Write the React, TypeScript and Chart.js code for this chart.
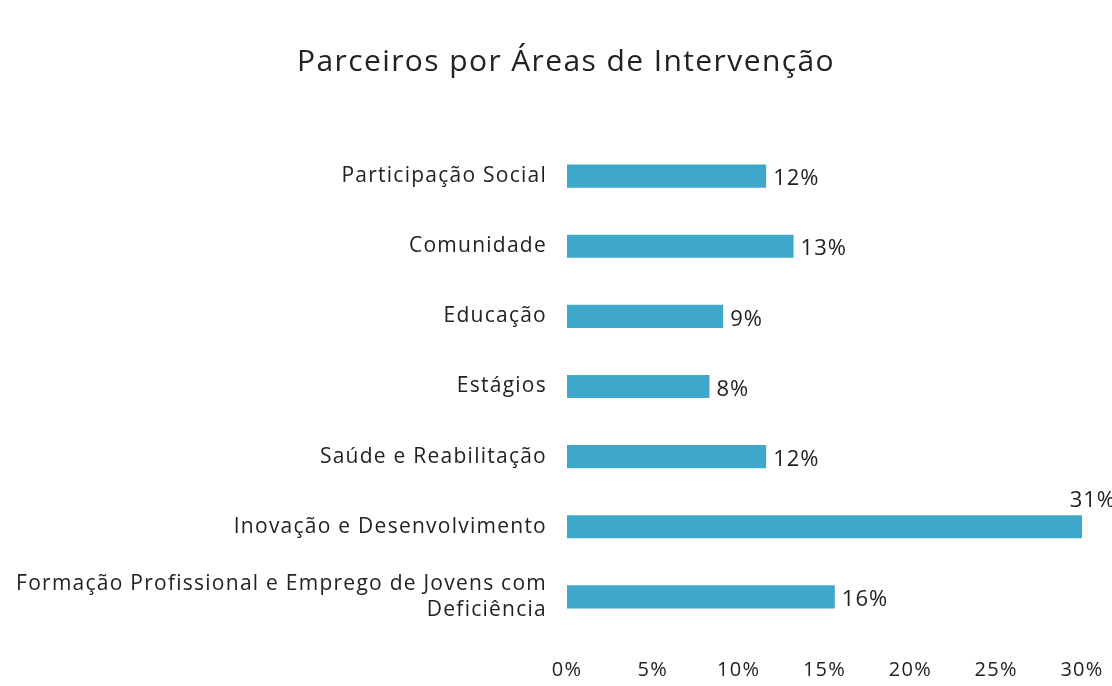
import React, { useEffect, useRef } from "react";
import { Chart, registerables } from "chart.js";

Chart.register(...registerables);

const title = "Parceiros por Áreas de Intervenção";
const categories: (string | string[])[] = [
  "Participação Social",
  "Comunidade",
  "Educação",
  "Estágios",
  "Saúde e Reabilitação",
  "Inovação e Desenvolvimento",
  ["Formação Profissional e Emprego de Jovens com", "Deficiência"],
];
// bar lengths (printed labels are these rounded)
const values = [11.6, 13.2, 9.1, 8.3, 11.6, 31, 15.6];
const axisMin = 0;
const axisMax = 30;
const axisStep = 5;

const FONT = "'Open Sans', 'Noto Sans', sans-serif";
const BAR_COLOR = "#3ea8cb";
const TEXT_COLOR = "#222222";

const spacing = {
  id: "spacing",
  beforeDraw(chart: any) {
    (chart.ctx as any).letterSpacing = "1.25px";
  },
  afterDraw(chart: any) {
    (chart.ctx as any).letterSpacing = "0px";
  },
};

const titlePlugin = {
  id: "titlePlugin",
  afterDraw(chart: any) {
    const ctx = chart.ctx;
    ctx.save();
    (ctx as any).letterSpacing = "1.4px";
    ctx.font = `30px ${FONT}`;
    ctx.fillStyle = TEXT_COLOR;
    ctx.textAlign = "center";
    ctx.textBaseline = "middle";
    ctx.fillText(title, 566, 62);
    ctx.restore();
  },
};

const valueLabels = {
  id: "valueLabels",
  afterDatasetsDraw(chart: any) {
    const ctx = chart.ctx;
    const meta = chart.getDatasetMeta(0);
    ctx.save();
    (ctx as any).letterSpacing = "1px";
    ctx.font = `22px ${FONT}`;
    ctx.fillStyle = TEXT_COLOR;
    ctx.textBaseline = "middle";
    ctx.textAlign = "left";
    meta.data.forEach((bar: any, i: number) => {
      const text = `${Math.round(values[i])}%`;
      const w = ctx.measureText(text).width;
      let x = Math.min(bar.x, chart.chartArea.right) + 7;
      let y = bar.y + 3;
      if (x + w > chart.width) {
        x = chart.width - w + 4;
        y = bar.y - 26;
      }
      ctx.fillText(text, x, y);
    });
    ctx.restore();
  },
};

export default function App() {
  const ref = useRef<HTMLCanvasElement | null>(null);
  useEffect(() => {
    if (!ref.current) return;
    const chart = new Chart(ref.current, {
      type: "bar",
      data: {
        labels: categories,
        datasets: [
          {
            data: values,
            backgroundColor: BAR_COLOR,
            borderWidth: 0,
            categoryPercentage: 1,
            barPercentage: 0.33,
          },
        ],
      },
      options: {
        indexAxis: "y",
        animation: false,
        responsive: true,
        maintainAspectRatio: false,
        layout: { padding: { left: 0, right: 30, top: 141, bottom: 0 } },
        plugins: {
          legend: { display: false },
          tooltip: { enabled: false },
          title: { display: false },
        },
        scales: {
          x: {
            min: axisMin,
            max: axisMax,
            grid: { display: false, drawTicks: false },
            border: { display: false },
            ticks: {
              stepSize: axisStep,
              padding: 26,
              color: TEXT_COLOR,
              font: { family: FONT, size: 20 },
              callback: (v: any) => `${v}%`,
            },
            afterFit: (s: any) => {
              s.height = 54;
              s.paddingRight = 0;
              s.paddingLeft = 0;
            },
          },
          y: {
            grid: { display: false, drawTicks: false },
            border: { display: false },
            ticks: {
              padding: 20,
              color: TEXT_COLOR,
              font: { family: FONT, size: 21 },
            },
            afterFit: (s: any) => {
              s.width = 567;
              s.paddingTop = 0;
              s.paddingBottom = 0;
            },
          },
        },
      },
      plugins: [spacing, titlePlugin, valueLabels],
    });
    return () => chart.destroy();
  }, []);
  return (
    <div style={{ position: "fixed", left: 0, top: 0, width: 1112, height: 686, background: "#fff" }}>
      <canvas ref={ref} />
    </div>
  );
}
